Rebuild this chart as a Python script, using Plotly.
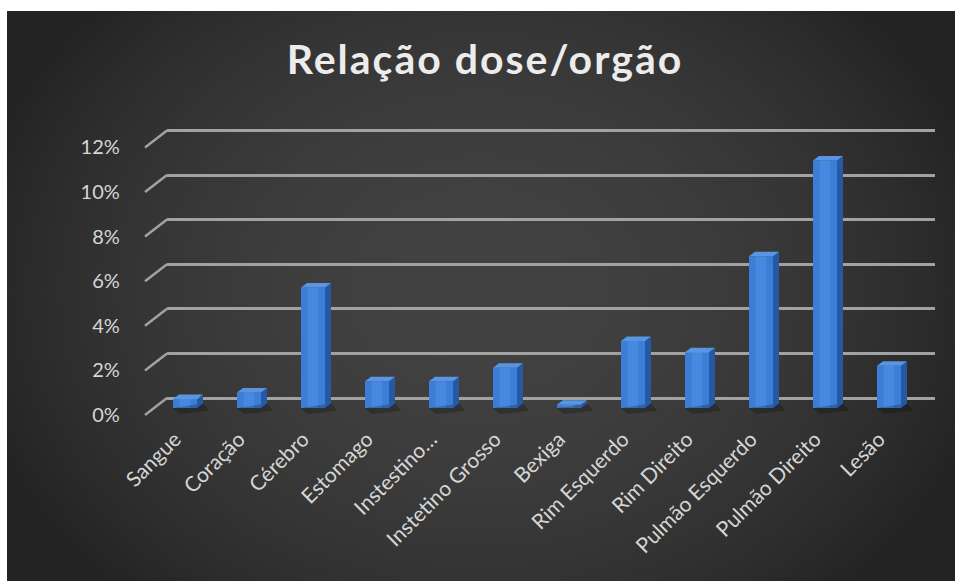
import math
import plotly.graph_objects as go

# ---- data -------------------------------------------------------------
categories = [
    "Sangue", "Coração", "Cérebro", "Estomago", "Instestino…",
    "Instetino Grosso", "Bexiga", "Rim Esquerdo", "Rim Direito",
    "Pulmão Esquerdo", "Pulmão Direito", "Lesão",
]
dose = [0.004, 0.007, 0.054, 0.012, 0.012, 0.018, 0.0015,
        0.030, 0.025, 0.068, 0.111, 0.019]
tick_values = [0.0, 0.02, 0.04, 0.06, 0.08, 0.10, 0.12]
tick_labels = ["0%", "2%", "4%", "6%", "8%", "10%", "12%"]

# ---- geometry helpers (figure pixels -> paper fractions) --------------
W, H = 955, 581
PX_PER_UNIT = 2230.0          # vertical pixels per 1.0 (100 %)
CAT_STEP = 64.0               # horizontal pixels per category


def fx(p):
    return p / W


def fy(p):
    return 1 - p / H


def ydomain(base_px, r0, r1):
    """Domain for a linear y axis whose value 0 sits at pixel base_px."""
    return [fy(base_px - r0 * PX_PER_UNIT), fy(base_px - r1 * PX_PER_UNIT)]


FONT = "Lato, 'Open Sans', sans-serif"
GRID = "#a2a2a2"
LABEL = "#d6d6d6"
BACK = "#232323"

fig = go.Figure()

# ---- back wall with horizontal gridlines (subplot x/y) ----------------
wall_r = [-0.0012, 0.1212]
fig.update_layout(
    xaxis=dict(domain=[fx(167), fx(935)], range=[0, 1], visible=False,
               fixedrange=True, automargin=False),
    yaxis=dict(domain=ydomain(398, *wall_r), range=wall_r, anchor="x",
               tickvals=tick_values, showgrid=True, gridcolor=GRID,
               gridwidth=2.5, zeroline=False, showticklabels=False,
               ticks="", showline=False, fixedrange=True,
               automargin=False),
)
fig.add_trace(go.Scatter(x=[0, 1], y=[0, 0], mode="lines",
                         line=dict(color="rgba(0,0,0,0)"),
                         hoverinfo="skip", showlegend=False,
                         xaxis="x", yaxis="y"))

# ---- bars (subplot x2/y2) ---------------------------------------------
n = len(categories)
idx = list(range(n))
bar_w = 0.375
side_dx = 6.0 / CAT_STEP
side_dy = 4.5 / PX_PER_UNIT

fig.add_trace(go.Bar(
    x=idx, y=dose, width=bar_w, marker=dict(color="#3a7ed5", line_width=0),
    showlegend=False, xaxis="x2", yaxis="y2",
))
# soft highlight down the middle of each front face
fig.add_trace(go.Bar(
    x=idx, y=dose, width=bar_w * 0.45,
    marker=dict(color="rgba(90,155,235,0.4)", line_width=0),
    hoverinfo="skip", showlegend=False, xaxis="x2", yaxis="y2",
))

side_x, side_y, top_x, top_y, shade_x, shade_y = [], [], [], [], [], []
for i, v in zip(idx, dose):
    r = i + bar_w / 2
    l = i - bar_w / 2
    side_x += [r, r + side_dx, r + side_dx, r, r, None]
    side_y += [0, side_dy, v + side_dy, v, 0, None]
    top_x += [l, r, r + side_dx, l + side_dx, l, None]
    top_y += [v, v, v + side_dy, v + side_dy, v, None]
    shade_x += [l, r + side_dx, r + side_dx + 0.1, l + 0.1, None]
    shade_y += [0, side_dy, -0.0012, -0.0028, None]

fig.add_trace(go.Scatter(x=shade_x, y=shade_y, fill="toself", mode="lines",
                         line=dict(width=0), fillcolor="rgba(0,0,0,0.22)",
                         hoverinfo="skip", showlegend=False,
                         xaxis="x2", yaxis="y2"))
fig.add_trace(go.Scatter(x=side_x, y=side_y, fill="toself", mode="lines",
                         line=dict(width=0), fillcolor="#2658a8",
                         hoverinfo="skip", showlegend=False,
                         xaxis="x2", yaxis="y2"))
fig.add_trace(go.Scatter(x=top_x, y=top_y, fill="toself", mode="lines",
                         line=dict(width=0), fillcolor="#5896e4",
                         hoverinfo="skip", showlegend=False,
                         xaxis="x2", yaxis="y2"))

bar_r = [-0.004, 0.12]
fig.update_layout(
    barmode="overlay",
    xaxis2=dict(domain=[fx(185 - CAT_STEP / 2),
                        fx(185 + (n - 0.5) * CAT_STEP)],
                range=[-0.5, n - 0.5], anchor="y2",
                tickvals=idx, ticktext=categories, tickangle=-45,
                tickfont=dict(family=FONT, size=21, color=LABEL),
                ticks="", ticklabelstandoff=5, ticklabelshift=-10,
                showgrid=False, zeroline=False, showline=False,
                fixedrange=True, automargin=False),
    yaxis2=dict(domain=ydomain(408, *bar_r), range=bar_r, anchor="x2",
                visible=False, fixedrange=True, automargin=False),
)

# ---- receding left edge of the gridlines + value axis (x3/y3) ----------
depth_dy = 17.0 / PX_PER_UNIT
edge_xr = [-0.1, 1.1]
edge_yr = [-0.002, 0.12 + depth_dy + 0.002]
ex0, ex1 = 145.0, 167.0
epx = (ex1 - ex0)
for v in tick_values:
    fig.add_trace(go.Scatter(x=[0, 1], y=[v, v + depth_dy], mode="lines",
                             line=dict(color=GRID, width=2.5),
                             hoverinfo="skip", showlegend=False,
                             xaxis="x3", yaxis="y3"))
fig.update_layout(
    xaxis3=dict(domain=[fx(ex0 + edge_xr[0] * epx), fx(ex0 + edge_xr[1] * epx)],
                range=edge_xr, anchor="y3", visible=False, fixedrange=True,
                automargin=False),
    yaxis3=dict(domain=ydomain(415, *edge_yr), range=edge_yr, anchor="x3",
                tickvals=tick_values, ticktext=tick_labels,
                tickfont=dict(family=FONT, size=20, color=LABEL),
                ticks="outside", ticklen=18, tickcolor="rgba(0,0,0,0)",
                showgrid=False, zeroline=False, showline=False,
                fixedrange=True, automargin=False),
)

# ---- dark backdrop with a soft radial glow, thin white frame top/left --
bx0, bx1, by0, by1 = fx(7), 1.0, 0.0, fy(11)
shapes = []
cx, cy, rx, ry, steps = 480.0, 290.0, 520.0, 420.0, 30
for k in range(steps):
    s = math.sqrt(1 - k / steps)
    pts = []
    for j in range(90):
        a = 2 * math.pi * j / 90
        px = min(max(fx(cx + rx * s * math.cos(a)), bx0), bx1)
        py = min(max(fy(cy + ry * s * math.sin(a)), by0), by1)
        pts.append(f"{px:.5f},{py:.5f}")
    shapes.append(dict(type="path", xref="paper", yref="paper",
                       layer="below", line_width=0,
                       path="M" + "L".join(pts) + "Z",
                       fillcolor="rgba(255,255,255,0.0075)"))
shapes.append(dict(type="rect", xref="paper", yref="paper", layer="below",
                   x0=0, x1=1, y0=by1, y1=1, line_width=0,
                   fillcolor="#ffffff"))
shapes.append(dict(type="rect", xref="paper", yref="paper", layer="below",
                   x0=0, x1=bx0, y0=0, y1=1, line_width=0,
                   fillcolor="#ffffff"))

fig.update_layout(
    template="none",
    width=W, height=H, margin=dict(l=0, r=0, t=0, b=0, autoexpand=False),
    paper_bgcolor=BACK, plot_bgcolor="rgba(0,0,0,0)",
    shapes=shapes, showlegend=False,
    title=dict(text='<span style="letter-spacing:2px">Relação dose/orgão'
                    '</span>',
               x=fx(485), y=fy(60),
               xref="paper", yref="paper", xanchor="center",
               yanchor="middle", automargin=False,
               font=dict(family=FONT, size=41, color="#ececec",
                         weight="bold")),
)

fig.write_html("out.html")
